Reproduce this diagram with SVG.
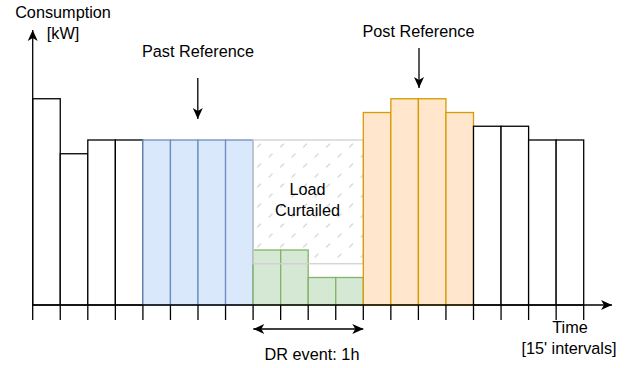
<svg xmlns="http://www.w3.org/2000/svg" width="629" height="368" viewBox="0 0 629 368">
  <style>
    text { font-family: "Liberation Sans", Arial, Helvetica, sans-serif; font-size: 16.25px; fill: #000; text-anchor: middle; }
    .bar { fill: #ffffff; stroke: #000; stroke-width: 1.3; }
    .blue { fill: #dae8fc; stroke: #6c8ebf; stroke-width: 1.3; }
    .green { fill: #d5e8d4; stroke: #82b366; stroke-width: 1.3; }
    .orange { fill: #ffe6cc; stroke: #d79b00; stroke-width: 1.3; }
    .axis { stroke: #000; stroke-width: 1.3; fill: none; }
    .tick { stroke: #000; stroke-width: 1.3; }
    .hatch-fill { fill: url(#hatch); stroke: none; }
    .hatch-edge { fill: none; stroke: #d0d0d0; stroke-width: 1.3; }
  </style>
  <defs>
    <marker id="arrow" viewBox="-12 -6 12 12" refX="0" refY="0" markerWidth="12" markerHeight="12" markerUnits="userSpaceOnUse" orient="auto-start-reverse">
      <path d="M0,0 L-11,-5 L-8,0 L-11,5 Z" fill="#000"/>
    </marker>
    <pattern id="hatch" patternUnits="userSpaceOnUse" x="253.1" y="140" width="23" height="20">
      <line x1="4.5" y1="7" x2="7.5" y2="4" stroke="#d8d8d8" stroke-width="1.4" stroke-linecap="round"/>
      <line x1="16" y1="17" x2="19" y2="14" stroke="#d8d8d8" stroke-width="1.4" stroke-linecap="round"/>
    </pattern>
  </defs>

  <!-- plain consumption bars -->
  <g id="bar0"><rect class="bar" x="32.7" y="98.75" width="27.55" height="206.25"/></g>
  <g id="bar1"><rect class="bar" x="60.25" y="153.75" width="27.55" height="151.25"/></g>
  <g id="bar2"><rect class="bar" x="87.8" y="140" width="27.55" height="165"/></g>
  <g id="bar3"><rect class="bar" x="115.35" y="140" width="27.55" height="165"/></g>

  <!-- past reference window -->
  <g id="past4"><rect class="blue" x="142.9" y="140" width="27.55" height="165"/></g>
  <g id="past5"><rect class="blue" x="170.45" y="140" width="27.55" height="165"/></g>
  <g id="past6"><rect class="blue" x="198" y="140" width="27.55" height="165"/></g>
  <g id="past7"><rect class="blue" x="225.55" y="140" width="27.55" height="165"/></g>

  <!-- curtailed load area (hatched baseline gap) -->
  <g id="curtailed">
    <rect class="hatch-fill" x="253.1" y="140" width="110.2" height="123.75"/>
    <text x="307.5" y="195">Load</text>
    <text x="307.5" y="216">Curtailed</text>
  </g>

  <!-- demand response event -->
  <g id="dr8"><rect class="green" x="253.1" y="250" width="27.55" height="55"/></g>
  <g id="dr9"><rect class="green" x="280.65" y="250" width="27.55" height="55"/></g>
  <g id="dr10"><rect class="green" x="308.2" y="277.5" width="27.55" height="27.5"/></g>
  <g id="dr11"><rect class="green" x="335.75" y="277.5" width="27.55" height="27.5"/></g>

  <!-- outline of the curtailed area, kept above the event bars -->
  <g id="curtailed-outline">
    <rect class="hatch-edge" x="253.1" y="140" width="110.2" height="123.75"/>
  </g>

  <!-- post reference window -->
  <g id="post12"><rect class="orange" x="363.3" y="112.5" width="27.55" height="192.5"/></g>
  <g id="post13"><rect class="orange" x="390.85" y="98.75" width="27.55" height="206.25"/></g>
  <g id="post14"><rect class="orange" x="418.4" y="98.75" width="27.55" height="206.25"/></g>
  <g id="post15"><rect class="orange" x="445.95" y="112.5" width="27.55" height="192.5"/></g>

  <g id="bar16"><rect class="bar" x="473.5" y="126.25" width="27.55" height="178.75"/></g>
  <g id="bar17"><rect class="bar" x="501.05" y="126.25" width="27.55" height="178.75"/></g>
  <g id="bar18"><rect class="bar" x="528.6" y="140" width="27.55" height="165"/></g>
  <g id="bar19"><rect class="bar" x="556.15" y="140" width="27.55" height="165"/></g>

  <!-- labels -->
  <g id="label-consumption">
    <text x="63" y="18">Consumption</text>
    <text x="63" y="38.5">[kW]</text>
  </g>
  <g id="label-past"><text x="198" y="56.5">Past Reference</text></g>
  <g id="label-post"><text x="418.5" y="37">Post Reference</text></g>
  <g id="label-dr"><text x="312" y="360">DR event: 1h</text></g>
  <g id="label-time">
    <text x="570" y="333">Time</text>
    <text x="569" y="354">[15' intervals]</text>
  </g>

  <!-- axes, ticks and arrows -->
  <g id="connectors">
    <line class="axis" x1="32.7" y1="320" x2="32.7" y2="30" marker-end="url(#arrow)"/>
    <line class="axis" x1="32.7" y1="305" x2="612" y2="305" marker-end="url(#arrow)"/>
    <g class="tick">
      <line x1="60.25" y1="305" x2="60.25" y2="320"/>
      <line x1="87.8" y1="305" x2="87.8" y2="320"/>
      <line x1="115.35" y1="305" x2="115.35" y2="320"/>
      <line x1="142.9" y1="305" x2="142.9" y2="320"/>
      <line x1="170.45" y1="305" x2="170.45" y2="320"/>
      <line x1="198" y1="305" x2="198" y2="320"/>
      <line x1="225.55" y1="305" x2="225.55" y2="320"/>
      <line x1="253.1" y1="305" x2="253.1" y2="320"/>
      <line x1="280.65" y1="305" x2="280.65" y2="320"/>
      <line x1="308.2" y1="305" x2="308.2" y2="320"/>
      <line x1="335.75" y1="305" x2="335.75" y2="320"/>
      <line x1="363.3" y1="305" x2="363.3" y2="320"/>
      <line x1="390.85" y1="305" x2="390.85" y2="320"/>
      <line x1="418.4" y1="305" x2="418.4" y2="320"/>
      <line x1="445.95" y1="305" x2="445.95" y2="320"/>
      <line x1="473.5" y1="305" x2="473.5" y2="320"/>
      <line x1="501.05" y1="305" x2="501.05" y2="320"/>
      <line x1="528.6" y1="305" x2="528.6" y2="320"/>
      <line x1="556.15" y1="305" x2="556.15" y2="320"/>
      <line x1="583.7" y1="305" x2="583.7" y2="320"/>
    </g>
    <line class="axis" x1="197.8" y1="78" x2="197.8" y2="119" marker-end="url(#arrow)"/>
    <line class="axis" x1="419" y1="48" x2="419" y2="88" marker-end="url(#arrow)"/>
    <line class="axis" x1="253.3" y1="329" x2="363.3" y2="329" marker-start="url(#arrow)" marker-end="url(#arrow)"/>
  </g>
</svg>
